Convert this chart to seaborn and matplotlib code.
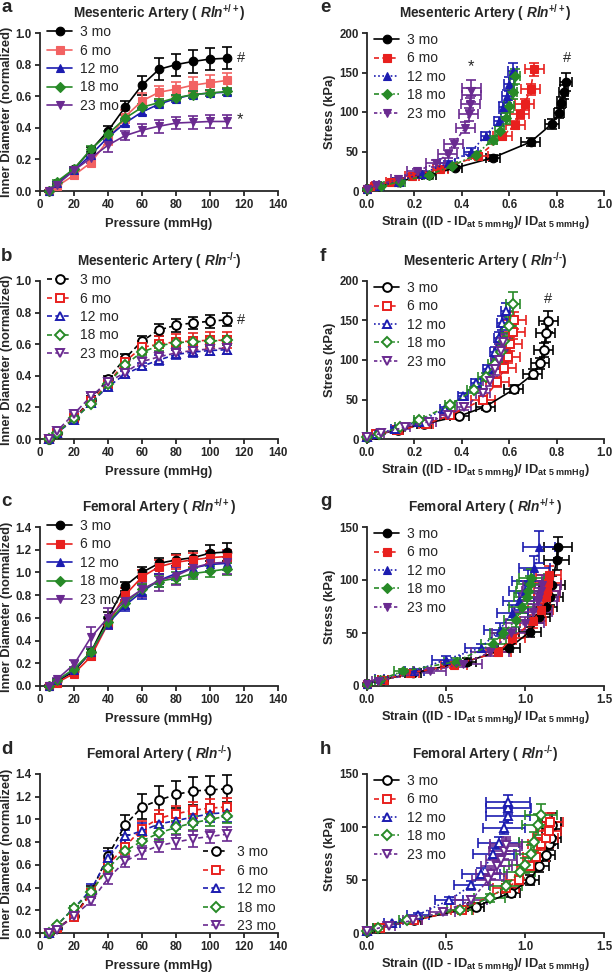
import matplotlib
matplotlib.use("Agg")
import matplotlib.pyplot as plt
import seaborn as sns

sns.set_style("ticks")
plt.rcParams["font.family"] = ["Liberation Sans", "DejaVu Sans"]
plt.rcParams["mathtext.fontset"] = "custom"
plt.rcParams["mathtext.rm"] = "Liberation Sans"
plt.rcParams["mathtext.bf"] = "Liberation Sans:bold"
plt.rcParams["mathtext.it"] = "Liberation Sans:italic"
plt.rcParams["mathtext.bfit"] = "Liberation Sans:italic:bold"

AGES = ["3 mo", "6 mo", "12 mo", "18 mo", "23 mo"]
PRESSURE = [5, 10, 20, 30, 40, 50, 60, 70, 80, 90, 100, 110]

# --- inner diameter vs pressure (a-d) ---
MES_WT_ID = [
    [0.00, 0.05, 0.14, 0.26, 0.38, 0.53, 0.67, 0.77, 0.80, 0.82, 0.835, 0.84],
    [0.00, 0.03, 0.10, 0.18, 0.32, 0.47, 0.57, 0.625, 0.645, 0.67, 0.685, 0.70],
    [0.00, 0.05, 0.13, 0.23, 0.34, 0.43, 0.50, 0.55, 0.585, 0.61, 0.62, 0.625],
    [0.00, 0.06, 0.14, 0.265, 0.36, 0.46, 0.53, 0.56, 0.59, 0.61, 0.62, 0.63],
    [0.00, 0.04, 0.13, 0.21, 0.29, 0.35, 0.385, 0.41, 0.43, 0.435, 0.44, 0.44],
]
MES_WT_SEM = [
    [0.005, 0.01, 0.015, 0.02, 0.03, 0.04, 0.06, 0.07, 0.07, 0.07, 0.07, 0.07],
    [0.005, 0.01, 0.02, 0.02, 0.03, 0.04, 0.05, 0.04, 0.045, 0.05, 0.05, 0.05],
    [0.005, 0.01, 0.01, 0.015, 0.015, 0.02, 0.02, 0.02, 0.02, 0.02, 0.02, 0.02],
    [0.005, 0.01, 0.015, 0.02, 0.02, 0.02, 0.02, 0.02, 0.02, 0.02, 0.02, 0.02],
    [0.005, 0.01, 0.02, 0.03, 0.04, 0.03, 0.04, 0.04, 0.04, 0.04, 0.04, 0.04],
]
MES_KO_ID = [
    [0.00, 0.04, 0.13, 0.25, 0.38, 0.51, 0.62, 0.69, 0.72, 0.735, 0.745, 0.755],
    [0.00, 0.04, 0.13, 0.24, 0.35, 0.49, 0.58, 0.60, 0.615, 0.62, 0.625, 0.625],
    [0.00, 0.04, 0.12, 0.23, 0.33, 0.41, 0.46, 0.50, 0.535, 0.55, 0.56, 0.565],
    [0.00, 0.04, 0.13, 0.22, 0.35, 0.47, 0.55, 0.59, 0.61, 0.615, 0.62, 0.625],
    [0.00, 0.05, 0.16, 0.27, 0.36, 0.42, 0.49, 0.52, 0.545, 0.56, 0.57, 0.575],
]
MES_KO_SEM = [
    [0.005, 0.01, 0.01, 0.02, 0.02, 0.03, 0.03, 0.04, 0.04, 0.04, 0.04, 0.04],
    [0.005, 0.01, 0.01, 0.02, 0.02, 0.03, 0.04, 0.05, 0.05, 0.05, 0.05, 0.05],
    [0.005, 0.01, 0.01, 0.01, 0.02, 0.02, 0.02, 0.03, 0.03, 0.03, 0.03, 0.03],
    [0.005, 0.01, 0.01, 0.02, 0.02, 0.02, 0.02, 0.03, 0.03, 0.03, 0.03, 0.03],
    [0.005, 0.01, 0.01, 0.02, 0.02, 0.03, 0.03, 0.03, 0.03, 0.03, 0.04, 0.04],
]
FEM_WT_ID = [
    [0.00, 0.04, 0.13, 0.30, 0.60, 0.88, 1.00, 1.08, 1.11, 1.13, 1.17, 1.18],
    [0.00, 0.03, 0.11, 0.26, 0.55, 0.80, 0.96, 1.05, 1.09, 1.11, 1.13, 1.14],
    [0.00, 0.05, 0.14, 0.30, 0.55, 0.71, 0.83, 0.93, 0.99, 1.04, 1.07, 1.08],
    [0.00, 0.05, 0.15, 0.30, 0.56, 0.73, 0.85, 0.92, 0.95, 0.99, 1.01, 1.03],
    [0.00, 0.06, 0.19, 0.43, 0.60, 0.75, 0.85, 0.93, 0.97, 1.04, 1.08, 1.09],
]
FEM_WT_SEM = [
    [0.005, 0.01, 0.02, 0.03, 0.05, 0.04, 0.05, 0.05, 0.05, 0.06, 0.07, 0.08],
    [0.005, 0.01, 0.02, 0.03, 0.05, 0.06, 0.06, 0.06, 0.06, 0.06, 0.06, 0.06],
    [0.005, 0.01, 0.02, 0.03, 0.05, 0.05, 0.06, 0.06, 0.06, 0.06, 0.06, 0.06],
    [0.005, 0.01, 0.02, 0.03, 0.05, 0.05, 0.05, 0.05, 0.05, 0.05, 0.05, 0.05],
    [0.005, 0.01, 0.04, 0.09, 0.09, 0.07, 0.07, 0.09, 0.08, 0.08, 0.08, 0.10],
]
FEM_KO_ID = [
    [0.00, 0.04, 0.15, 0.36, 0.68, 0.95, 1.11, 1.17, 1.22, 1.25, 1.26, 1.27],
    [0.00, 0.04, 0.14, 0.35, 0.60, 0.76, 0.92, 1.01, 1.05, 1.08, 1.10, 1.11],
    [0.00, 0.07, 0.22, 0.38, 0.66, 0.85, 0.90, 0.96, 0.99, 1.02, 1.05, 1.06],
    [0.00, 0.07, 0.22, 0.36, 0.57, 0.72, 0.81, 0.88, 0.93, 0.97, 1.00, 1.03],
    [0.00, 0.03, 0.15, 0.28, 0.48, 0.63, 0.71, 0.77, 0.80, 0.83, 0.85, 0.87],
]
FEM_KO_SEM = [
    [0.005, 0.01, 0.02, 0.05, 0.07, 0.09, 0.11, 0.12, 0.12, 0.12, 0.12, 0.12],
    [0.005, 0.01, 0.02, 0.04, 0.05, 0.06, 0.07, 0.07, 0.07, 0.07, 0.08, 0.08],
    [0.005, 0.01, 0.02, 0.05, 0.06, 0.06, 0.07, 0.07, 0.07, 0.07, 0.07, 0.08],
    [0.005, 0.01, 0.02, 0.04, 0.05, 0.06, 0.06, 0.06, 0.06, 0.06, 0.06, 0.06],
    [0.005, 0.02, 0.02, 0.03, 0.05, 0.05, 0.06, 0.06, 0.06, 0.07, 0.06, 0.06],
]

# --- stress vs strain (e-h) ---
MES_WT_STRAIN = [
    [0.00, 0.05, 0.13, 0.26, 0.37, 0.53, 0.69, 0.78, 0.81, 0.82, 0.83, 0.84],
    [0.00, 0.03, 0.10, 0.19, 0.31, 0.47, 0.57, 0.625, 0.645, 0.665, 0.69, 0.705],
    [0.00, 0.05, 0.13, 0.23, 0.34, 0.44, 0.50, 0.555, 0.575, 0.59, 0.60, 0.615],
    [0.00, 0.06, 0.14, 0.26, 0.36, 0.46, 0.53, 0.56, 0.585, 0.60, 0.615, 0.625],
    [0.00, 0.04, 0.13, 0.21, 0.29, 0.34, 0.365, 0.415, 0.43, 0.435, 0.44, 0.44],
]
MES_WT_STRESS = [
    [3, 6, 12, 20, 29, 42, 62, 85, 99, 112, 125, 138],
    [3, 6, 12, 19, 28, 44, 69, 84, 97, 110, 129, 154],
    [3, 6, 12, 22, 35, 50, 70, 88, 106, 120, 135, 152],
    [3, 6, 12, 20, 32, 46, 65, 76, 92, 108, 125, 145],
    [3, 7, 15, 25, 35, 47, 60, 80, 97, 110, 122, 130],
]
MES_WT_XERR = [
    [0.005, 0.01, 0.02, 0.03, 0.03, 0.03, 0.04, 0.03, 0.02, 0.02, 0.02, 0.025],
    [0.005, 0.01, 0.02, 0.03, 0.03, 0.04, 0.04, 0.04, 0.04, 0.04, 0.04, 0.04],
    [0.005, 0.01, 0.02, 0.02, 0.03, 0.03, 0.02, 0.02, 0.02, 0.02, 0.02, 0.02],
    [0.005, 0.01, 0.02, 0.02, 0.02, 0.02, 0.02, 0.02, 0.02, 0.02, 0.02, 0.02],
    [0.005, 0.01, 0.03, 0.04, 0.04, 0.04, 0.04, 0.04, 0.04, 0.04, 0.04, 0.04],
]
MES_WT_YERR = [
    [1, 1, 2, 2, 3, 4, 5, 6, 6, 7, 9, 11],
    [1, 1, 2, 2, 3, 4, 5, 5, 6, 7, 7, 8],
    [1, 1, 2, 2, 3, 4, 5, 6, 7, 8, 9, 10],
    [1, 1, 2, 2, 3, 4, 5, 6, 7, 8, 9, 10],
    [1, 1, 2, 3, 4, 5, 6, 7, 8, 8, 9, 10],
]
MES_KO_STRAIN = [
    [0.00, 0.04, 0.13, 0.24, 0.39, 0.50, 0.62, 0.70, 0.73, 0.745, 0.755, 0.765],
    [0.00, 0.04, 0.13, 0.25, 0.35, 0.49, 0.55, 0.58, 0.595, 0.605, 0.615, 0.62],
    [0.00, 0.04, 0.12, 0.22, 0.33, 0.405, 0.46, 0.51, 0.54, 0.555, 0.57, 0.585],
    [0.00, 0.05, 0.14, 0.22, 0.35, 0.45, 0.50, 0.54, 0.565, 0.58, 0.60, 0.615],
    [0.00, 0.06, 0.16, 0.26, 0.34, 0.41, 0.49, 0.52, 0.54, 0.555, 0.565, 0.575],
]
MES_KO_STRESS = [
    [3, 6, 11, 19, 29, 41, 63, 82, 96, 113, 134, 149],
    [3, 6, 11, 19, 30, 50, 72, 90, 104, 120, 136, 150],
    [3, 6, 13, 22, 38, 54, 71, 88, 110, 128, 147, 162],
    [3, 6, 15, 24, 43, 62, 79, 95, 110, 124, 143, 171],
    [3, 7, 15, 22, 30, 41, 58, 73, 88, 100, 112, 123],
]
MES_KO_XERR = [
    [0.005, 0.01, 0.02, 0.03, 0.04, 0.04, 0.04, 0.04, 0.04, 0.04, 0.04, 0.04],
    [0.005, 0.01, 0.02, 0.03, 0.04, 0.05, 0.05, 0.05, 0.05, 0.05, 0.05, 0.05],
    [0.005, 0.01, 0.02, 0.02, 0.02, 0.02, 0.02, 0.02, 0.02, 0.02, 0.02, 0.02],
    [0.005, 0.01, 0.02, 0.02, 0.02, 0.03, 0.03, 0.03, 0.03, 0.03, 0.03, 0.03],
    [0.005, 0.01, 0.02, 0.03, 0.03, 0.03, 0.03, 0.03, 0.03, 0.03, 0.03, 0.03],
]
MES_KO_YERR = [
    [1, 1, 2, 2, 3, 4, 5, 6, 7, 9, 11, 13],
    [1, 1, 2, 2, 3, 5, 6, 7, 8, 9, 10, 11],
    [1, 1, 2, 2, 3, 4, 5, 6, 7, 8, 9, 10],
    [1, 1, 2, 2, 3, 4, 5, 6, 8, 10, 12, 15],
    [1, 1, 2, 2, 3, 4, 5, 6, 7, 8, 9, 10],
]
FEM_WT_STRAIN = [
    [0.00, 0.10, 0.29, 0.63, 0.90, 1.03, 1.09, 1.13, 1.16, 1.17, 1.20, 1.21],
    [0.00, 0.10, 0.27, 0.55, 0.83, 0.92, 1.05, 1.10, 1.135, 1.14, 1.145, 1.15],
    [0.00, 0.08, 0.30, 0.50, 0.72, 0.84, 0.92, 0.96, 1.00, 1.02, 1.06, 1.09],
    [0.00, 0.08, 0.23, 0.565, 0.80, 0.86, 0.945, 0.98, 1.01, 1.02, 1.03, 1.04],
    [0.00, 0.07, 0.40, 0.61, 0.78, 0.91, 1.00, 1.05, 1.08, 1.09, 1.10, 1.11],
]
FEM_WT_STRESS = [
    [2, 6, 12, 23, 36, 51, 65, 75, 84, 95, 119, 131],
    [2, 6, 12, 20, 32, 45, 61, 72, 84, 90, 97, 105],
    [2, 7, 14, 25, 36, 53, 69, 80, 90, 99, 111, 131],
    [2, 6, 14, 23, 40, 50, 62, 75, 84, 90, 96, 102],
    [2, 5, 14, 21, 32, 50, 59, 70, 80, 84, 90, 95],
]
FEM_WT_XERR = [
    [0.01, 0.03, 0.05, 0.06, 0.07, 0.07, 0.07, 0.07, 0.08, 0.08, 0.08, 0.09],
    [0.01, 0.03, 0.06, 0.08, 0.08, 0.08, 0.08, 0.08, 0.08, 0.08, 0.08, 0.08],
    [0.01, 0.03, 0.06, 0.09, 0.10, 0.10, 0.10, 0.10, 0.10, 0.10, 0.10, 0.10],
    [0.01, 0.03, 0.06, 0.08, 0.08, 0.08, 0.08, 0.08, 0.08, 0.08, 0.08, 0.08],
    [0.01, 0.04, 0.10, 0.12, 0.12, 0.12, 0.12, 0.12, 0.12, 0.12, 0.12, 0.12],
]
FEM_WT_YERR = [
    [1, 1, 2, 3, 4, 5, 6, 7, 8, 9, 10, 10],
    [1, 1, 2, 3, 4, 5, 6, 6, 7, 7, 8, 8],
    [1, 1, 2, 3, 4, 6, 7, 8, 9, 10, 12, 15],
    [1, 1, 2, 3, 4, 5, 6, 6, 7, 7, 8, 8],
    [1, 1, 2, 3, 4, 5, 6, 7, 8, 8, 9, 10],
]
FEM_KO_STRAIN = [
    [0.00, 0.07, 0.30, 0.69, 0.91, 1.03, 1.09, 1.13, 1.15, 1.165, 1.17, 1.17],
    [0.00, 0.08, 0.30, 0.60, 0.88, 0.96, 1.03, 1.07, 1.10, 1.13, 1.15, 1.16],
    [0.00, 0.16, 0.32, 0.52, 0.66, 0.72, 0.80, 0.835, 0.867, 0.89, 0.895, 0.893],
    [0.00, 0.07, 0.25, 0.586, 0.776, 0.88, 0.966, 1.00, 1.04, 1.06, 1.08, 1.10],
    [0.00, 0.14, 0.29, 0.48, 0.66, 0.766, 0.787, 0.82, 0.85, 0.87, 0.88, 0.88],
]
FEM_KO_STRESS = [
    [2, 5, 12, 25, 38, 50, 63, 74, 84, 90, 98, 105],
    [2, 5, 12, 22, 42, 50, 63, 72, 84, 90, 96, 105],
    [2, 9, 17, 31, 45, 56, 75, 85, 99, 110, 118, 124],
    [2, 5, 12, 22, 33, 44, 58, 64, 75, 86, 102, 111],
    [2, 7, 12, 20, 31, 50, 56, 63, 69, 77, 82, 84],
]
FEM_KO_XERR = [
    [0.01, 0.03, 0.04, 0.05, 0.06, 0.06, 0.06, 0.06, 0.06, 0.06, 0.06, 0.06],
    [0.01, 0.03, 0.05, 0.07, 0.08, 0.08, 0.08, 0.08, 0.08, 0.08, 0.08, 0.08],
    [0.01, 0.05, 0.07, 0.09, 0.11, 0.12, 0.13, 0.13, 0.13, 0.14, 0.14, 0.14],
    [0.01, 0.03, 0.05, 0.08, 0.10, 0.10, 0.10, 0.10, 0.10, 0.10, 0.10, 0.10],
    [0.01, 0.04, 0.06, 0.08, 0.10, 0.10, 0.10, 0.10, 0.10, 0.10, 0.10, 0.10],
]
FEM_KO_YERR = [
    [1, 1, 2, 3, 4, 5, 5, 6, 6, 7, 7, 8],
    [1, 1, 2, 3, 4, 5, 5, 6, 6, 7, 7, 8],
    [1, 1, 2, 3, 4, 5, 5, 6, 6, 6, 6, 6],
    [1, 1, 2, 3, 4, 5, 6, 7, 8, 9, 10, 11],
    [1, 1, 2, 3, 4, 5, 5, 6, 6, 7, 7, 7],
]

BLACK, RED, BLUE, GREEN, PURPLE = "#000000", "#E8201E", "#1C1CB0", "#278A27", "#6A2A90"
COLORS = [BLACK, RED, BLUE, GREEN, PURPLE]
COLORS_A = [BLACK, "#F26262", BLUE, GREEN, PURPLE]
MARKERS = ["o", "s", "^", "D", "v"]
DASHED = [(0, (3, 2))] * 5
SOLID = ["-"] * 5
MIXED = ["-", (0, (3, 2)), (0, (1, 1.5)), (0, (3, 1.5, 1, 1.5)), (0, (2, 1.5, 1, 1.5))]

W, H = 612, 973
LEFT_X, RIGHT_X = 40, 367
ROW_TOPS = [33, 281, 527, 774]
ROW_BOTTOMS = [191, 439, 686, 933]


def make_ax(fig, col, row):
    x0 = LEFT_X if col == 0 else RIGHT_X
    x1 = 278 if col == 0 else 604
    top, bot = ROW_TOPS[row], ROW_BOTTOMS[row]
    return fig.add_axes([x0 / W, 1 - bot / H, (x1 - x0) / W, (bot - top) / H])


def draw_series(ax, xs, ys, colors, linestyles, hollow, xerrs=None, yerrs=None):
    for i, age in enumerate(AGES):
        c = colors[i]
        size = 6.3 if hollow else 6.2
        if MARKERS[i] == "D":
            size -= 1.0
        ax.errorbar(xs[i], ys[i],
                    xerr=None if xerrs is None else xerrs[i],
                    yerr=None if yerrs is None else yerrs[i],
                    fmt="none", ecolor=c, elinewidth=1.2, capsize=3.4,
                    capthick=1.2, clip_on=False, zorder=2 + i * 0.1)
        sns.lineplot(x=xs[i], y=ys[i], ax=ax, sort=False, color=c,
                     linestyle=linestyles[i], linewidth=1.2,
                     marker=MARKERS[i], markersize=size,
                     markerfacecolor="white" if hollow else c,
                     markeredgecolor=c, markeredgewidth=1.4 if hollow else 0.8,
                     label=age, clip_on=False, zorder=3 + i * 0.1)


def style_ax(ax, xlim, xticks, xfmt, ylim, yticks, yfmt, xlabel, ylabel, xpad):
    ax.set_xlim(*xlim)
    ax.set_ylim(*ylim)
    ax.set_xticks(xticks)
    ax.set_yticks(yticks)
    ax.set_xticklabels([xfmt.format(v) for v in xticks], fontweight="bold")
    ax.set_yticklabels([yfmt.format(v) for v in yticks], fontweight="bold")
    sns.despine(ax=ax)
    for side in ("left", "bottom"):
        ax.spines[side].set_linewidth(1.3)
    ax.tick_params(length=3.5, width=1.3, labelsize=8.3, pad=2.5)
    ax.set_xlabel(xlabel, fontsize=9.3, fontweight="bold", labelpad=xpad)
    ax.set_ylabel(ylabel, fontsize=9.3, fontweight="bold", labelpad=2)


def add_legend(ax, loc, anchor):
    ax.legend(loc=loc, bbox_to_anchor=anchor, frameon=False, fontsize=10,
              handlelength=1.8, handletextpad=0.6, labelspacing=0.32,
              borderaxespad=0.0, borderpad=0.0)


fig = plt.figure(figsize=(W / 100, H / 100), dpi=100)

STRAIN_LABEL = r"Strain ((ID - ID$_{\mathbf{at\ 5\ mmHg}}$)/ ID$_{\mathbf{at\ 5\ mmHg}}$)"
WT = r"$\mathbfit{Rln}^{\mathbf{+/+}}$"
KO = "$\\mathbfit{Rln}^{\\mathbf{\u2010/\u2010}}$"

panels_left = [
    ("a", "Mesenteric Artery ( " + WT + ")", MES_WT_ID, MES_WT_SEM, COLORS_A, SOLID, False, 1.0),
    ("b", "Mesenteric Artery ( " + KO + ")", MES_KO_ID, MES_KO_SEM, COLORS, DASHED, True, 1.0),
    ("c", "Femoral Artery ( " + WT + ")", FEM_WT_ID, FEM_WT_SEM, COLORS, SOLID, False, 1.4),
    ("d", "Femoral Artery ( " + KO + ")", FEM_KO_ID, FEM_KO_SEM, COLORS, DASHED, True, 1.4),
]
for row, (letter, title, ids, sems, cols, ls, hollow, ymax) in enumerate(panels_left):
    ax = make_ax(fig, 0, row)
    draw_series(ax, [PRESSURE] * 5, ids, cols, ls, hollow, yerrs=sems)
    yt = [round(v * 0.2, 1) for v in range(int(round(ymax / 0.2)) + 1)]
    style_ax(ax, (0, 140), list(range(0, 141, 20)), "{:d}", (0, ymax), yt, "{:.1f}",
             "Pressure (mmHg)", "Inner Diameter (normalized)", 5)
    ax.set_title(title, fontsize=9.8, fontweight="bold", pad=11)
    if letter == "d":
        add_legend(ax, "lower right", (0.99, 0.0))
    else:
        add_legend(ax, "upper left", (0.03, 1.05))
    fig.text(1 / W, 1 - ROW_TOPS[row] / H + 25 / H, letter, fontsize=13.5,
             fontweight="bold", va="center", ha="left")
    if letter == "a":
        ax.text(116, 0.84, "#", fontsize=10.5, va="center")
        ax.text(116, 0.45, "*", fontsize=12, va="center")
    if letter == "b":
        ax.text(116, 0.75, "#", fontsize=10.5, va="center")

panels_right = [
    ("e", "Mesenteric Artery ( " + WT + ")", MES_WT_STRAIN, MES_WT_STRESS, MES_WT_XERR, MES_WT_YERR, False, 1.0, 200),
    ("f", "Mesenteric Artery ( " + KO + ")", MES_KO_STRAIN, MES_KO_STRESS, MES_KO_XERR, MES_KO_YERR, True, 1.0, 200),
    ("g", "Femoral Artery ( " + WT + ")", FEM_WT_STRAIN, FEM_WT_STRESS, FEM_WT_XERR, FEM_WT_YERR, False, 1.5, 150),
    ("h", "Femoral Artery ( " + KO + ")", FEM_KO_STRAIN, FEM_KO_STRESS, FEM_KO_XERR, FEM_KO_YERR, True, 1.5, 150),
]
for row, (letter, title, strain, stress, xe, ye, hollow, xmax, ymax) in enumerate(panels_right):
    ax = make_ax(fig, 1, row)
    draw_series(ax, strain, stress, COLORS, MIXED, hollow, xerrs=xe, yerrs=ye)
    if xmax == 1.0:
        xt = [0.0, 0.2, 0.4, 0.6, 0.8, 1.0]
    else:
        xt = [0.0, 0.5, 1.0, 1.5]
    style_ax(ax, (0, xmax), xt, "{:.1f}", (0, ymax), list(range(0, ymax + 1, 50)), "{:d}",
             STRAIN_LABEL, "Stress (kPa)", 2)
    ax.set_title(title, fontsize=9.8, fontweight="bold", pad=11)
    add_legend(ax, "upper left", (0.03, 1.0))
    fig.text(320 / W, 1 - ROW_TOPS[row] / H + 25 / H, letter, fontsize=13.5,
             fontweight="bold", va="center", ha="left")
    if letter == "e":
        ax.text(0.44, 158, "*", fontsize=12, ha="center", va="center")
        ax.text(0.845, 168, "#", fontsize=10.5, ha="center", va="center")
    if letter == "f":
        ax.text(0.765, 177, "#", fontsize=10.5, ha="center", va="center")

fig.savefig("out.png", dpi=100)
